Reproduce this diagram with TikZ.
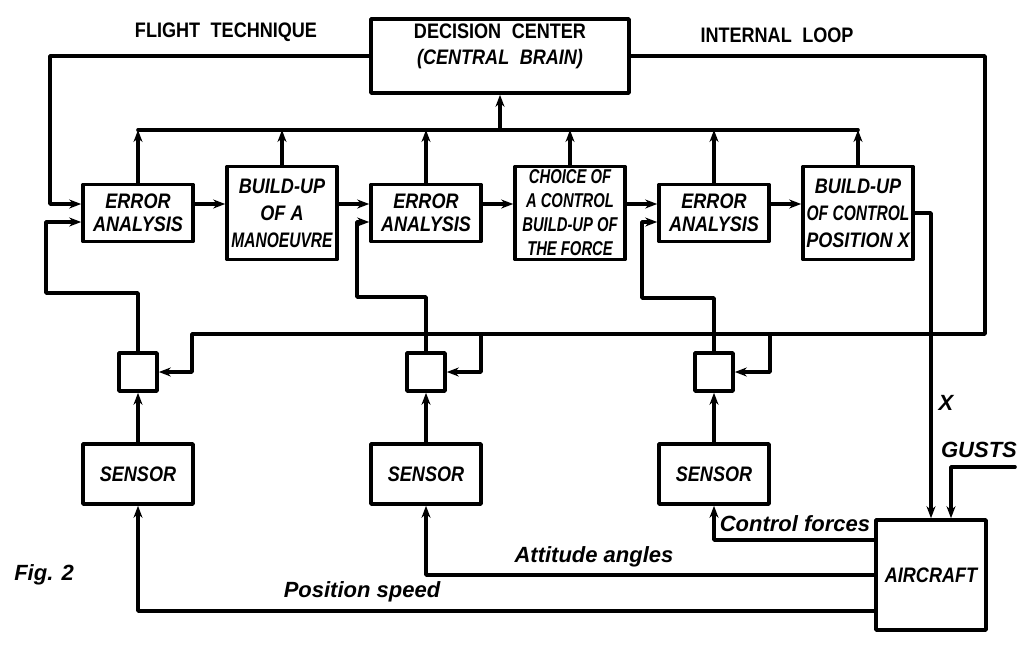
\documentclass[tikz,border=0pt]{standalone}
\usepackage{fontspec}
\setmainfont{Liberation Sans}
\newfontfamily\lblfont[FakeStretch=0.86]{Liberation Sans}
\newfontfamily\lblnarrow[FakeStretch=0.74]{Liberation Sans}
\usetikzlibrary{arrows.meta}
\begin{document}
\begin{tikzpicture}[x=1pt,y=-1pt,line width=3.6pt,line join=round,line cap=round,>={Stealth[length=12pt,width=9pt]},
    blk/.style={draw,minimum width=110pt,minimum height=57pt,inner sep=1pt,align=center,font=\lblfont\bfseries\itshape\fontsize{21}{23}\selectfont},
    tall/.style={minimum height=93pt,font=\lblfont\bfseries\itshape\fontsize{21}{27}\selectfont},
    sq/.style={draw,minimum size=38pt,inner sep=0pt},
    toplbl/.style={font=\lblfont\bfseries\fontsize{21}{26}\selectfont,align=center},
    lbl/.style={font=\bfseries\itshape\fontsize{22}{26}\selectfont}]
    \useasboundingbox (0,0) rectangle (1017,645);
    \node[draw,minimum width=258pt,minimum height=74pt] (brain) at (500,56) {};
    \node[toplbl] (braintxt) at (500,46) {DECISION\enspace CENTER\\{\itshape (CENTRAL\enspace BRAIN)}};
    \node[toplbl] (flight) at (226,32) {FLIGHT\enspace TECHNIQUE};
    \node[toplbl] (inner) at (777,35) {INTERNAL\enspace LOOP};
    \node[blk] (ea1) at (138,213) {ERROR\\ANALYSIS};
    \node[blk,tall] (man) at (282,213) {BUILD-UP\\OF A\\{\lblnarrow MANOEUVRE}};
    \node[blk] (ea2) at (426,213) {ERROR\\ANALYSIS};
    \node[blk,tall,font=\lblnarrow\bfseries\itshape\fontsize{20}{24}\selectfont] (choice) at (570,213) {CHOICE OF\\A CONTROL\\BUILD-UP OF\\THE FORCE};
    \node[blk] (ea3) at (714,213) {ERROR\\ANALYSIS};
    \node[blk,tall] (posx) at (858,213) {BUILD-UP\\{\lblnarrow OF CONTROL}\\POSITION X};
    \node[sq] (cmp1) at (138,372) {};
    \node[sq] (cmp2) at (426,372) {};
    \node[sq] (cmp3) at (714,372) {};
    \node[blk,minimum height=60pt] (sen1) at (138,474) {SENSOR};
    \node[blk,minimum height=60pt] (sen2) at (426,474) {SENSOR};
    \node[blk,minimum height=60pt] (sen3) at (714,474) {SENSOR};
    \node[blk,minimum height=110pt] (plane) at (931,575) {AIRCRAFT};
    \coordinate (bus) at (0,130);
    \coordinate (tap2) at (481,334);
    \coordinate (tap3) at (770,334);
    \coordinate (gust) at (1015,467);
    \draw (ea1.north |- bus) -- (posx.north |- bus);
    \foreach \n in {ea1,man,ea2,choice,ea3,posx}
        \draw[->] (\n.north) -- (\n.north |- bus);
    \draw[->] (brain.south |- bus) -- (brain.south);
    \draw[->] ([yshift=9pt]ea1.east) -- ([yshift=9pt]man.west);
    \draw[->] ([yshift=9pt]man.east) -- ([yshift=9pt]ea2.west);
    \draw[->] ([yshift=9pt]ea2.east) -- ([yshift=9pt]choice.west);
    \draw[->] ([yshift=9pt]choice.east) -- ([yshift=9pt]ea3.west);
    \draw[->] ([yshift=9pt]ea3.east) -- ([yshift=9pt]posx.west);
    \draw[->] (brain.west) -| (50,204) -- ([yshift=9pt]ea1.west);
    \draw[->] (brain.east) -| (985,334) -| (192,372) -- (cmp1.east);
    \draw[->] (tap2) |- (cmp2.east);
    \draw[->] (tap3) |- (cmp3.east);
    \draw[->] (cmp1.north) |- (46,293) |- ([yshift=-9pt]ea1.west);
    \draw[->] (cmp2.north) |- (357,297) |- ([yshift=-9pt]ea2.west);
    \draw[->] (cmp3.north) |- (642,298) |- ([yshift=-9pt]ea3.west);
    \foreach \i in {1,2,3}
        \draw[->] (sen\i.north) -- (cmp\i.south);
    \draw[->] (posx.east) -| (plane.north);
    \draw[->] (gust) -| ([xshift=20pt]plane.north);
    \draw[->] ([yshift=-36pt]plane.west) -| (sen1.south);
    \draw[->] (plane.west) -| (sen2.south);
    \draw[->] ([yshift=35pt]plane.west) -| (sen3.south);
    \node[lbl] (xlbl) at (946,403) {X};
    \node[lbl] (gustlbl) at (979,450) {GUSTS};
    \node[lbl] (poslbl) at (362,592) {Position speed};
    \node[lbl] (attlbl) at (594,557) {Attitude angles};
    \node[lbl] (forcelbl) at (795,524) {Control forces};
    \node[lbl] (fig) at (44,575) {Fig. 2};
\end{tikzpicture}
\end{document}
